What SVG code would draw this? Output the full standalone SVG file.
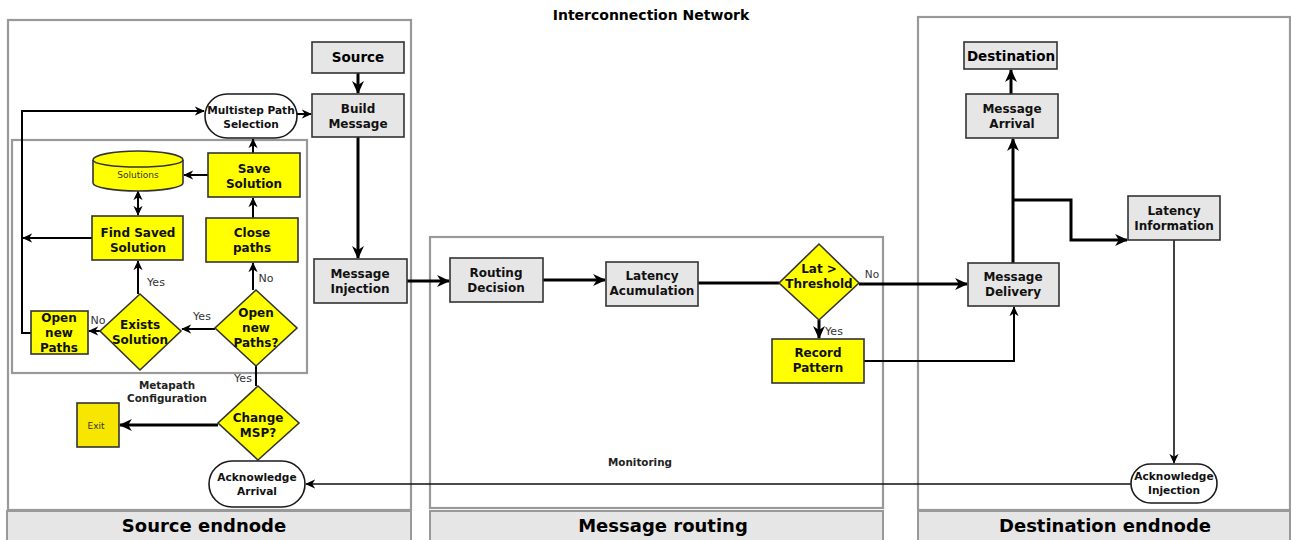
<svg xmlns="http://www.w3.org/2000/svg" width="1291" height="540" viewBox="0 0 1291 540">
  <style>
    .panel { fill: #ffffff; stroke: #999999; stroke-width: 2.2; }
    .bar { fill: #e6e6e6; stroke: #999999; stroke-width: 2; }
    .bartxt { font-family: "DejaVu Sans", Verdana, sans-serif; font-weight: bold; font-size: 18px; fill: #000; text-anchor: middle; }
    .grey { fill: #e6e6e6; stroke: #333333; stroke-width: 1.6; }
    .yel { fill: #ffff00; stroke: #333333; stroke-width: 1.6; }
    .term { fill: #ffffff; stroke: #1a1a1a; stroke-width: 1.6; }
    .lb { font-family: "DejaVu Sans", Verdana, sans-serif; font-weight: bold; font-size: 12px; fill: #111; text-anchor: middle; }
    .lbs { font-family: "DejaVu Sans", Verdana, sans-serif; font-weight: bold; font-size: 10.6px; fill: #111; text-anchor: middle; }
    .big { font-family: "DejaVu Sans", Verdana, sans-serif; font-weight: bold; font-size: 13.5px; fill: #000; text-anchor: middle; }
    .note { font-family: "DejaVu Sans", Verdana, sans-serif; font-weight: bold; font-size: 10.4px; fill: #222; text-anchor: middle; }
    .small { font-family: "DejaVu Sans", Verdana, sans-serif; font-size: 9px; fill: #333; text-anchor: middle; }
    .yn { font-family: "DejaVu Sans", Verdana, sans-serif; font-size: 11px; fill: #333; text-anchor: middle; }
    .thick { fill: none; stroke: #000; stroke-width: 3; }
    .mid { fill: none; stroke: #000; stroke-width: 2; }
    .thin { fill: none; stroke: #111; stroke-width: 1.6; }
  </style>
  <defs>
    <marker id="ah" viewBox="0 0 12 12" refX="11" refY="6" markerWidth="13" markerHeight="13" markerUnits="userSpaceOnUse" orient="auto">
      <path d="M0,0.5 L12,6 L0,11.5 L3.5,6 z" fill="#000"/>
    </marker>
    <marker id="ahm" viewBox="0 0 12 12" refX="11" refY="6" markerWidth="10" markerHeight="10" markerUnits="userSpaceOnUse" orient="auto">
      <path d="M0,0.5 L12,6 L0,11.5 L3.5,6 z" fill="#000"/>
    </marker>
    <marker id="ahs" viewBox="0 0 12 12" refX="1" refY="6" markerWidth="10" markerHeight="10" markerUnits="userSpaceOnUse" orient="auto">
      <path d="M12,0.5 L0,6 L12,11.5 L8.5,6 z" fill="#000"/>
    </marker>
  </defs>

  <!-- swimlane frames -->
  <g id="lanes">
    <rect class="panel" x="8" y="20" width="403" height="490"/>
    <rect class="panel" x="430" y="237" width="453" height="271"/>
    <rect class="panel" x="918" y="17" width="372" height="493"/>
    <rect class="panel" x="12" y="140" width="295" height="233"/>
    <rect class="bar" x="7" y="511" width="404" height="32"/>
    <rect class="bar" x="430" y="511" width="453" height="32"/>
    <rect class="bar" x="918" y="511" width="372" height="32"/>
    <text class="bartxt" x="204" y="532">Source endnode</text>
    <text class="bartxt" x="663" y="532">Message routing</text>
    <text class="bartxt" x="1105" y="532">Destination endnode</text>
    <text class="big" x="651" y="20" style="font-size:14px">Interconnection Network</text>
    <text class="note" x="167" y="389">Metapath</text>
    <text class="note" x="167" y="402">Configuration</text>
    <text class="note" x="640" y="466">Monitoring</text>
  </g>

  <!-- connectors -->
  <g id="connectors">
    <path class="thick" d="M358,73 V93" marker-end="url(#ah)"/>
    <path class="thick" d="M358,137 V258" marker-end="url(#ah)"/>
    <path class="thick" d="M406,281 H449" marker-end="url(#ah)"/>
    <path class="thick" d="M543,280 H605" marker-end="url(#ah)"/>
    <path class="thick" d="M698,283 H779"/>
    <path class="thick" d="M859,284 H967" marker-end="url(#ah)"/>
    <path class="thick" d="M819,320 V338" marker-end="url(#ah)"/>
    <path class="mid" d="M864,361 H1014 V307" marker-end="url(#ahm)"/>
    <path class="thick" d="M1013,263 V139" marker-end="url(#ah)"/>
    <path class="thick" d="M1013,200 H1071 V240 H1127" marker-end="url(#ah)"/>
    <path class="thick" d="M1011,94 V70" marker-end="url(#ah)"/>
    <path class="thin" d="M1174,240 V463" marker-end="url(#ahm)"/>
    <path class="thin" d="M1131,484 H306" marker-end="url(#ahm)"/>
    <path class="thick" d="M218,425 H120" marker-end="url(#ah)"/>
    <path class="mid" d="M256,366 V386"/>
    <path class="mid" d="M215,329 H182" marker-end="url(#ahm)"/>
    <path class="mid" d="M100,331 H89" marker-end="url(#ahm)"/>
    <path class="mid" d="M138,294 V261" marker-end="url(#ahm)"/>
    <path class="mid" d="M253,290 V263" marker-end="url(#ahm)"/>
    <path class="mid" d="M253,218 V198" marker-end="url(#ahm)"/>
    <path class="mid" d="M253,153 V139" marker-end="url(#ahm)"/>
    <path class="mid" d="M208,175 H184" marker-end="url(#ahm)"/>
    <path class="mid" d="M138,215 V191" marker-start="url(#ahs)" marker-end="url(#ahm)"/>
    <path class="mid" d="M31,333 H22 V111 H204" marker-end="url(#ahm)"/>
    <path class="mid" d="M92,238 H23" marker-end="url(#ahm)"/>
    <path class="mid" d="M297,114 H311" marker-end="url(#ahm)"/>
    <text class="yn" x="156" y="286">Yes</text>
    <text class="yn" x="266" y="282">No</text>
    <text class="yn" x="202" y="320">Yes</text>
    <text class="yn" x="98" y="324">No</text>
    <text class="yn" x="243" y="382">Yes</text>
    <text class="yn" x="872" y="278" style="font-size:10.5px">No</text>
    <text class="yn" x="834" y="335">Yes</text>
  </g>

  <!-- source endnode -->
  <g id="source">
    <rect class="grey" x="312" y="42" width="92" height="31"/>
    <text class="big" x="358" y="62">Source</text>
  </g>
  <g id="build-message">
    <rect class="grey" x="312" y="94" width="92" height="43"/>
    <text class="lb" x="358" y="113">Build</text>
    <text class="lb" x="358" y="128">Message</text>
  </g>
  <g id="multistep-path-selection">
    <rect class="term" x="205" y="94" width="92" height="44" rx="22" ry="22"/>
    <text class="lbs" x="251" y="114">Multistep Path</text>
    <text class="lbs" x="251" y="128">Selection</text>
  </g>
  <g id="solutions">
    <path class="yel" d="M93,160 A45,9 0 0 1 183,160 V183 A45,8 0 0 1 93,183 Z"/>
    <path class="yel" style="fill:none" d="M93,160 A45,7 0 0 0 183,160"/>
    <text class="small" x="138" y="178">Solutions</text>
  </g>
  <g id="save-solution">
    <rect class="yel" x="208" y="153" width="92" height="44"/>
    <text class="lb" x="254" y="173">Save</text>
    <text class="lb" x="254" y="188">Solution</text>
  </g>
  <g id="find-saved-solution">
    <rect class="yel" x="92" y="216" width="91" height="44"/>
    <text class="lb" x="138" y="237">Find Saved</text>
    <text class="lb" x="138" y="252">Solution</text>
  </g>
  <g id="close-paths">
    <rect class="yel" x="206" y="218" width="92" height="44"/>
    <text class="lb" x="252" y="237">Close</text>
    <text class="lb" x="252" y="252">paths</text>
  </g>
  <g id="open-new-paths">
    <rect class="yel" x="31" y="311" width="57" height="43"/>
    <text class="lb" x="59" y="322">Open</text>
    <text class="lb" x="59" y="337">new</text>
    <text class="lb" x="59" y="352">Paths</text>
  </g>
  <g id="exists-solution">
    <polygon class="yel" points="140,294 181,331 140,370 100,331"/>
    <text class="lb" x="140" y="329">Exists</text>
    <text class="lb" x="140" y="344">Solution</text>
  </g>
  <g id="open-new-paths-q">
    <polygon class="yel" points="256,290 297,328 256,366 215,328"/>
    <text class="lb" x="256" y="317">Open</text>
    <text class="lb" x="256" y="332">new</text>
    <text class="lb" x="256" y="347">Paths?</text>
  </g>
  <g id="change-msp">
    <polygon class="yel" points="258,386 299,423 258,460 218,423"/>
    <text class="lb" x="258" y="422">Change</text>
    <text class="lb" x="258" y="437">MSP?</text>
  </g>
  <g id="exit">
    <rect class="yel" style="fill:#f7e600" x="77" y="403" width="42" height="44"/>
    <text class="small" x="96" y="429">Exit</text>
  </g>
  <g id="acknowledge-arrival">
    <rect class="term" x="209" y="461" width="96" height="46" rx="23" ry="23"/>
    <text class="lbs" x="257" y="481">Acknowledge</text>
    <text class="lbs" x="257" y="495">Arrival</text>
  </g>
  <g id="message-injection">
    <rect class="grey" x="314" y="259" width="93" height="44"/>
    <text class="lb" x="360" y="278">Message</text>
    <text class="lb" x="360" y="293">Injection</text>
  </g>

  <!-- message routing -->
  <g id="routing-decision">
    <rect class="grey" x="450" y="258" width="93" height="44"/>
    <text class="lb" x="496" y="277">Routing</text>
    <text class="lb" x="496" y="292">Decision</text>
  </g>
  <g id="latency-acumulation">
    <rect class="grey" x="606" y="262" width="92" height="44"/>
    <text class="lb" x="652" y="280">Latency</text>
    <text class="lb" x="652" y="295">Acumulation</text>
  </g>
  <g id="lat-threshold">
    <polygon class="yel" points="819,244 859,283 819,320 779,283"/>
    <text class="lb" x="819" y="273">Lat &gt;</text>
    <text class="lb" x="819" y="288">Threshold</text>
  </g>
  <g id="record-pattern">
    <rect class="yel" x="772" y="339" width="92" height="44"/>
    <text class="lb" x="818" y="357">Record</text>
    <text class="lb" x="818" y="372">Pattern</text>
  </g>

  <!-- destination endnode -->
  <g id="destination">
    <rect class="grey" x="964" y="42" width="93" height="27"/>
    <text class="big" x="1011" y="61">Destination</text>
  </g>
  <g id="message-arrival">
    <rect class="grey" x="966" y="94" width="92" height="44"/>
    <text class="lb" x="1012" y="113">Message</text>
    <text class="lb" x="1012" y="128">Arrival</text>
  </g>
  <g id="latency-information">
    <rect class="grey" x="1128" y="196" width="92" height="44"/>
    <text class="lb" x="1174" y="215">Latency</text>
    <text class="lb" x="1174" y="230">Information</text>
  </g>
  <g id="message-delivery">
    <rect class="grey" x="968" y="263" width="91" height="43"/>
    <text class="lb" x="1013" y="281">Message</text>
    <text class="lb" x="1013" y="296">Delivery</text>
  </g>
  <g id="acknowledge-injection">
    <rect class="term" x="1131" y="464" width="86" height="39" rx="19.5" ry="19.5"/>
    <text class="lbs" x="1174" y="480">Acknowledge</text>
    <text class="lbs" x="1174" y="494">Injection</text>
  </g>
</svg>
